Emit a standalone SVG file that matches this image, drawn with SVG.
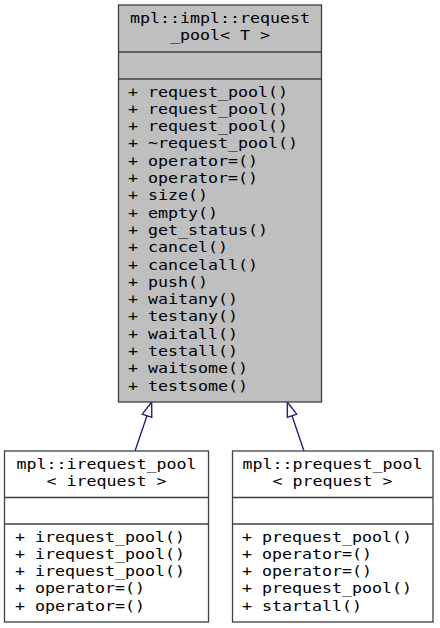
<svg xmlns="http://www.w3.org/2000/svg" width="440" height="628" viewBox="0 0 440 628">
<style>
.box{stroke:#404040;stroke-width:1.3}
.cur{fill:#bfbfbf}
.oth{fill:#ffffff}
.sep{stroke:#404040;stroke-width:1.3}
text{font-family:"DejaVu Sans Mono","Liberation Mono",monospace;font-size:14px;fill:#000000}
.edge{stroke:#191970;stroke-width:1.3;fill:none}
.head{stroke:#191970;stroke-width:1.3;fill:#ffffff}
</style>
<rect width="440" height="628" fill="#ffffff"/>
<g id="connectors">
<line class="edge" x1="135" y1="451" x2="147" y2="415.7"/>
<polygon class="head" points="151.7,402 151.8,417.3 142.3,414.1"/>
<line class="edge" x1="304" y1="451" x2="292" y2="415.7"/>
<polygon class="head" points="287.3,402 296.7,414.1 287.3,417.3"/>
</g>
<g id="node-request_pool">
<rect class="box cur" x="118.5" y="5" width="203" height="397"/>
<line class="sep" x1="118.5" y1="52" x2="321.5" y2="52"/>
<line class="sep" x1="118.5" y1="79" x2="321.5" y2="79"/>
<text x="130" y="22.5" textLength="180" lengthAdjust="spacingAndGlyphs">mpl::impl::request</text>
<text x="170" y="39.8" textLength="100" lengthAdjust="spacingAndGlyphs">_pool&lt; T &gt;</text>
<text x="128" y="96.5" textLength="160" lengthAdjust="spacingAndGlyphs">+ request_pool()</text>
<text x="128" y="113.8" textLength="160" lengthAdjust="spacingAndGlyphs">+ request_pool()</text>
<text x="128" y="131.1" textLength="160" lengthAdjust="spacingAndGlyphs">+ request_pool()</text>
<text x="128" y="148.4" textLength="170" lengthAdjust="spacingAndGlyphs">+ ~request_pool()</text>
<text x="128" y="165.7" textLength="130" lengthAdjust="spacingAndGlyphs">+ operator=()</text>
<text x="128" y="183" textLength="130" lengthAdjust="spacingAndGlyphs">+ operator=()</text>
<text x="128" y="200.3" textLength="80" lengthAdjust="spacingAndGlyphs">+ size()</text>
<text x="128" y="217.6" textLength="90" lengthAdjust="spacingAndGlyphs">+ empty()</text>
<text x="128" y="234.9" textLength="140" lengthAdjust="spacingAndGlyphs">+ get_status()</text>
<text x="128" y="252.2" textLength="100" lengthAdjust="spacingAndGlyphs">+ cancel()</text>
<text x="128" y="269.5" textLength="130" lengthAdjust="spacingAndGlyphs">+ cancelall()</text>
<text x="128" y="286.8" textLength="80" lengthAdjust="spacingAndGlyphs">+ push()</text>
<text x="128" y="304.1" textLength="110" lengthAdjust="spacingAndGlyphs">+ waitany()</text>
<text x="128" y="321.4" textLength="110" lengthAdjust="spacingAndGlyphs">+ testany()</text>
<text x="128" y="338.7" textLength="110" lengthAdjust="spacingAndGlyphs">+ waitall()</text>
<text x="128" y="356" textLength="110" lengthAdjust="spacingAndGlyphs">+ testall()</text>
<text x="128" y="373.3" textLength="120" lengthAdjust="spacingAndGlyphs">+ waitsome()</text>
<text x="128" y="390.6" textLength="120" lengthAdjust="spacingAndGlyphs">+ testsome()</text>
</g>
<g id="node-irequest_pool">
<rect class="box oth" x="4.5" y="451" width="204" height="171"/>
<line class="sep" x1="4.5" y1="497.5" x2="208.5" y2="497.5"/>
<line class="sep" x1="4.5" y1="524" x2="208.5" y2="524"/>
<text x="16.5" y="468.5" textLength="180" lengthAdjust="spacingAndGlyphs">mpl::irequest_pool</text>
<text x="46.5" y="485.8" textLength="120" lengthAdjust="spacingAndGlyphs">&lt; irequest &gt;</text>
<text x="15" y="541.5" textLength="170" lengthAdjust="spacingAndGlyphs">+ irequest_pool()</text>
<text x="15" y="558.8" textLength="170" lengthAdjust="spacingAndGlyphs">+ irequest_pool()</text>
<text x="15" y="576.1" textLength="170" lengthAdjust="spacingAndGlyphs">+ irequest_pool()</text>
<text x="15" y="593.4" textLength="130" lengthAdjust="spacingAndGlyphs">+ operator=()</text>
<text x="15" y="610.7" textLength="130" lengthAdjust="spacingAndGlyphs">+ operator=()</text>
</g>
<g id="node-prequest_pool">
<rect class="box oth" x="232.5" y="451" width="200.5" height="171"/>
<line class="sep" x1="232.5" y1="497.5" x2="433" y2="497.5"/>
<line class="sep" x1="232.5" y1="524" x2="433" y2="524"/>
<text x="242.5" y="468.5" textLength="180" lengthAdjust="spacingAndGlyphs">mpl::prequest_pool</text>
<text x="272.5" y="485.8" textLength="120" lengthAdjust="spacingAndGlyphs">&lt; prequest &gt;</text>
<text x="242" y="541.5" textLength="170" lengthAdjust="spacingAndGlyphs">+ prequest_pool()</text>
<text x="242" y="558.8" textLength="130" lengthAdjust="spacingAndGlyphs">+ operator=()</text>
<text x="242" y="576.1" textLength="130" lengthAdjust="spacingAndGlyphs">+ operator=()</text>
<text x="242" y="593.4" textLength="170" lengthAdjust="spacingAndGlyphs">+ prequest_pool()</text>
<text x="242" y="610.7" textLength="120" lengthAdjust="spacingAndGlyphs">+ startall()</text>
</g>
</svg>
